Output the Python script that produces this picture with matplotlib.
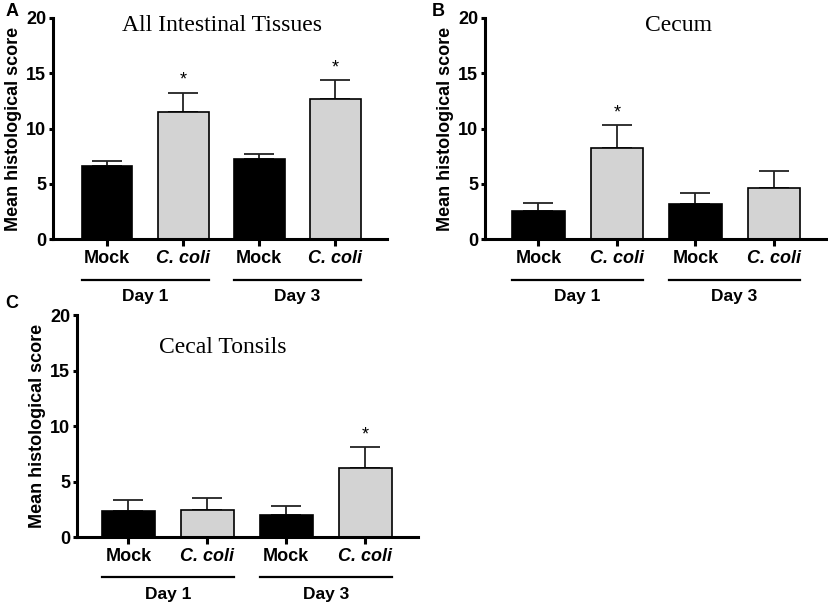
import numpy as np
import matplotlib.pyplot as plt

# Mean histological scores (bar heights) and upper SEM
groups = ['Mock', 'C. coli', 'Mock', 'C. coli']
days = ['Day 1', 'Day 3']

all_tissues_mean = [6.6, 11.5, 7.2, 12.7]
all_tissues_err = [0.45, 1.75, 0.5, 1.65]
all_tissues_sig = [False, True, False, True]

cecum_mean = [2.55, 8.2, 3.2, 4.6]
cecum_err = [0.75, 2.1, 1.0, 1.55]
cecum_sig = [False, True, False, False]

tonsils_mean = [2.35, 2.45, 1.95, 6.2]
tonsils_err = [0.95, 1.1, 0.8, 1.9]
tonsils_sig = [False, False, False, True]

bar_colors = ['black', '#d3d3d3', 'black', '#d3d3d3']
sans = 'Liberation Sans'
serif = 'Liberation Serif'

fig = plt.figure(figsize=(8.29, 6.04), dpi=100)
axA = fig.add_axes([0.0639, 0.6043, 0.4029, 0.3659])
axB = fig.add_axes([0.585, 0.6043, 0.4138, 0.3659])
axC = fig.add_axes([0.0929, 0.1109, 0.4113, 0.3675])


def draw_panel(ax, means, errs, sig, title, title_xy, xlim, line_y, day_y):
    x = np.arange(len(means))
    w = 0.67
    ax.bar(x, means, width=w, color=bar_colors, edgecolor='black', linewidth=1.2, zorder=2)
    ax.errorbar(x, means, yerr=[np.zeros(len(errs)), errs], fmt='none',
                ecolor='#222222', elinewidth=1.3, capsize=11, capthick=1.3, zorder=1)
    for xi, m, e, s in zip(x, means, errs, sig):
        if s:
            ax.text(xi, m + e + 0.35, '*', ha='center', va='bottom', fontsize=13,
                    family=sans)

    ax.set_ylim(0, 20)
    ax.set_xlim(*xlim)
    ax.set_yticks([0, 5, 10, 15, 20])
    ax.set_xticks(x)
    ax.set_xticklabels(groups)
    for lab in ax.get_xticklabels():
        lab.set_fontweight('bold')
        lab.set_family(sans)
        lab.set_fontsize(13)
        if lab.get_text().startswith('C.'):
            lab.set_style('italic')
    for lab in ax.get_yticklabels():
        lab.set_fontweight('bold')
        lab.set_family(sans)
        lab.set_fontsize(13)

    ax.set_ylabel('Mean histological score', fontsize=13, fontweight='bold',
                  family=sans, labelpad=3)
    for side in ['top', 'right']:
        ax.spines[side].set_visible(False)
    for side in ['left', 'bottom']:
        ax.spines[side].set_linewidth(2.2)
    ax.tick_params(axis='x', length=5, width=2.2, pad=3)
    ax.tick_params(axis='y', length=3, width=2.2, pad=2)

    ax.text(title_xy[0], title_xy[1], title, transform=ax.transAxes, ha='center',
            va='center', fontsize=17, family=serif)

    # group lines with day labels
    trans = ax.get_xaxis_transform()
    for i, day in enumerate(days):
        x0 = x[2 * i] - w / 2
        x1 = x[2 * i + 1] + w / 2
        ax.plot([x0, x1], [line_y, line_y], color='black', lw=1.6, transform=trans,
                clip_on=False)
        ax.text((x0 + x1) / 2, day_y, day, transform=trans, ha='center', va='center',
                fontsize=12.5, fontweight='bold', family=sans)


draw_panel(axA, all_tissues_mean, all_tissues_err, all_tissues_sig,
           'All Intestinal Tissues', (0.506, 0.968), (-0.71, 3.68), -0.186, -0.258)
draw_panel(axB, cecum_mean, cecum_err, cecum_sig,
           'Cecum', (0.563, 0.968), (-0.68, 3.69), -0.186, -0.258)
draw_panel(axC, tonsils_mean, tonsils_err, tonsils_sig,
           'Cecal Tonsils', (0.428, 0.856), (-0.65, 3.67), -0.18, -0.257)

for letter, px, py in [('A', 12, 12), ('B', 438, 12), ('C', 12, 303)]:
    fig.text(px / 829, 1 - py / 604, letter, ha='center', va='center', fontsize=13,
             fontweight='bold', family=sans)

fig.savefig('out.png', dpi=100)
